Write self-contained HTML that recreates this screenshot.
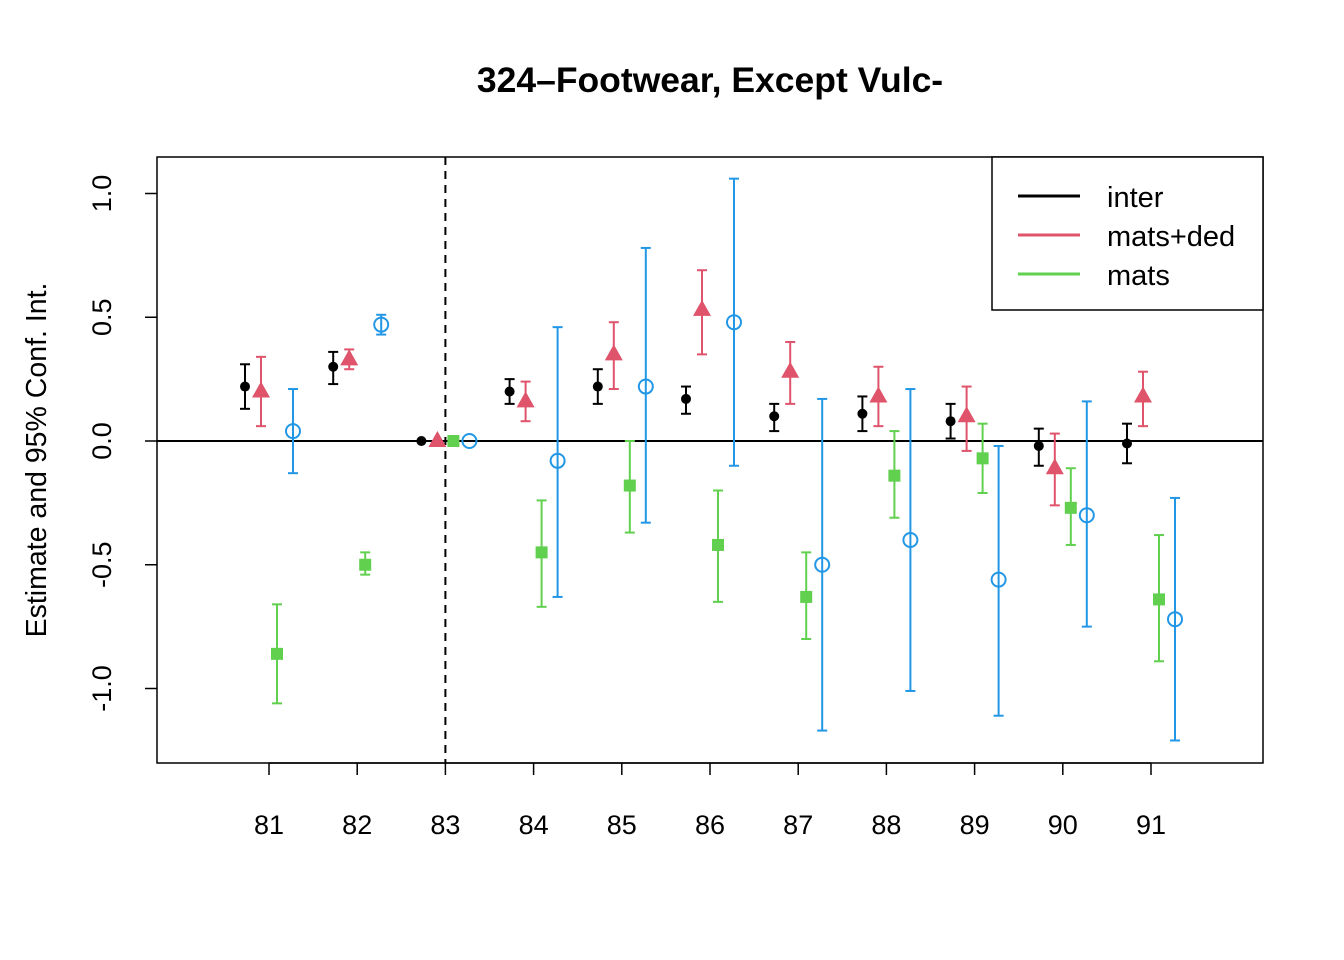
<!DOCTYPE html>
<html><head><meta charset="utf-8"><style>
html,body{margin:0;padding:0;background:#fff;}
svg{display:block;font-family:"Liberation Sans",Arial,sans-serif;}
</style></head><body>
<svg id="chart" width="1344" height="960" viewBox="0 0 1344 960" xmlns="http://www.w3.org/2000/svg">
<text x="710" y="92" text-anchor="middle" font-size="35.5" font-weight="bold">324–Footwear, Except Vulc-</text>
<rect x="157" y="157" width="1106" height="606" fill="none" stroke="#000" stroke-width="1.5"/>
<text transform="translate(46,460) rotate(-90)" text-anchor="middle" font-size="28.5">Estimate and 95% Conf. Int.</text>
<g id="axes"></g>
<g id="marks"></g>
<g>
<rect x="992" y="157" width="271" height="153" fill="#fff" stroke="#000" stroke-width="1.5"/>
<line x1="1018" y1="196" x2="1080" y2="196" stroke="#000" stroke-width="3"/>
<text x="1107" y="207" font-size="29">inter</text>
<line x1="1018" y1="235" x2="1080" y2="235" stroke="#DF536B" stroke-width="3"/>
<text x="1107" y="246" font-size="29">mats+ded</text>
<line x1="1018" y1="274" x2="1080" y2="274" stroke="#61D04F" stroke-width="3"/>
<text x="1107" y="285" font-size="29">mats</text>
</g>
</svg>
<script>
const years=[81,82,83,84,85,86,87,88,89,90,91];
const yTicks=[-1.0,-0.5,0.0,0.5,1.0];
const yTickLabels=["-1.0","-0.5","0.0","0.5","1.0"];
const interEst=[0.22,0.30,0,0.20,0.22,0.17,0.10,0.11,0.08,-0.02,-0.01];
const interLo=[0.13,0.23,0,0.15,0.15,0.11,0.04,0.04,0.01,-0.10,-0.09];
const interHi=[0.31,0.36,0,0.25,0.29,0.22,0.15,0.18,0.15,0.05,0.07];
const mdEst=[0.20,0.33,0,0.16,0.35,0.53,0.28,0.18,0.10,-0.11,0.18];
const mdLo=[0.06,0.29,0,0.08,0.21,0.35,0.15,0.06,-0.04,-0.26,0.06];
const mdHi=[0.34,0.37,0,0.24,0.48,0.69,0.40,0.30,0.22,0.03,0.28];
const matsEst=[-0.86,-0.50,0,-0.45,-0.18,-0.42,-0.63,-0.14,-0.07,-0.27,-0.64];
const matsLo=[-1.06,-0.54,0,-0.67,-0.37,-0.65,-0.80,-0.31,-0.21,-0.42,-0.89];
const matsHi=[-0.66,-0.45,0,-0.24,0.0,-0.20,-0.45,0.04,0.07,-0.11,-0.38];
const blueEst=[0.04,0.47,0,-0.08,0.22,0.48,-0.50,-0.40,-0.56,-0.30,-0.72];
const blueLo=[-0.13,0.43,0,-0.63,-0.33,-0.10,-1.17,-1.01,-1.11,-0.75,-1.21];
const blueHi=[0.21,0.51,0,0.46,0.78,1.06,0.17,0.21,-0.02,0.16,-0.23];
const refYear=83;

const NS="http://www.w3.org/2000/svg";
const xS=v=>269+(v-81)*88.2;
const yS=v=>441-247.5*v;
function mk(tag,attrs,parent){const e=document.createElementNS(NS,tag);for(const k in attrs)e.setAttribute(k,attrs[k]);parent.appendChild(e);return e;}
const axes=document.getElementById('axes'),marks=document.getElementById('marks');

years.forEach(yr=>{
  const t=mk('line',{x1:xS(yr),y1:763,x2:xS(yr),y2:775,stroke:'#000','stroke-width':1.5},axes);
  
  
  const l=mk('text',{x:xS(yr),y:834,'text-anchor':'middle','font-size':27},axes);
  l.textContent=yr;
  
  
});
mk('line',{x1:xS(81),y1:763,x2:xS(91),y2:763,stroke:'#000','stroke-width':1.5},axes);
yTicks.forEach((v,i)=>{
  const t=mk('line',{x1:145,y1:yS(v),x2:157,y2:yS(v),stroke:'#000','stroke-width':1.5},axes);
  
  
  const l=mk('text',{transform:`translate(111,${yS(v)}) rotate(-90)`,'text-anchor':'middle','font-size':27},axes);
  l.textContent=yTickLabels[i];
  
  
});
const zl=mk('line',{x1:157,y1:yS(0),x2:1263,y2:yS(0),stroke:'#000','stroke-width':2},axes);


const rl=mk('line',{x1:xS(refYear),y1:157,x2:xS(refYear),y2:763,stroke:'#000','stroke-width':2,'stroke-dasharray':'8,6'},axes);



function series(name,est,lo,hi,off,col,shape){
  years.forEach((yr,i)=>{
    const x=xS(yr)+off;
    const g=mk('g',{},marks);
    
    
    if(yr!==refYear){
      mk('line',{x1:x,y1:yS(lo[i]),x2:x,y2:yS(hi[i]),stroke:col,'stroke-width':2},g);
      mk('line',{x1:x-5,y1:yS(lo[i]),x2:x+5,y2:yS(lo[i]),stroke:col,'stroke-width':2},g);
      mk('line',{x1:x-5,y1:yS(hi[i]),x2:x+5,y2:yS(hi[i]),stroke:col,'stroke-width':2},g);
    }
    const y=yS(est[i]);
    if(shape==='dot')mk('circle',{cx:x,cy:y,r:5,fill:col},g);
    else if(shape==='tri')mk('polygon',{points:`${x},${y-10} ${x-9},${y+6} ${x+9},${y+6}`,fill:col},g);
    else if(shape==='sq')mk('rect',{x:x-6,y:y-6,width:12,height:12,fill:col},g);
    else mk('circle',{cx:x,cy:y,r:7,fill:'none',stroke:col,'stroke-width':2},g);
  });
}
series('inter',interEst,interLo,interHi,-24,'#000','dot');
series('mats-ded',mdEst,mdLo,mdHi,-8,'#DF536B','tri');
series('mats',matsEst,matsLo,matsHi,8,'#61D04F','sq');
series('blue',blueEst,blueLo,blueHi,24,'#2297E6','circ');
</script>
</body></html>
